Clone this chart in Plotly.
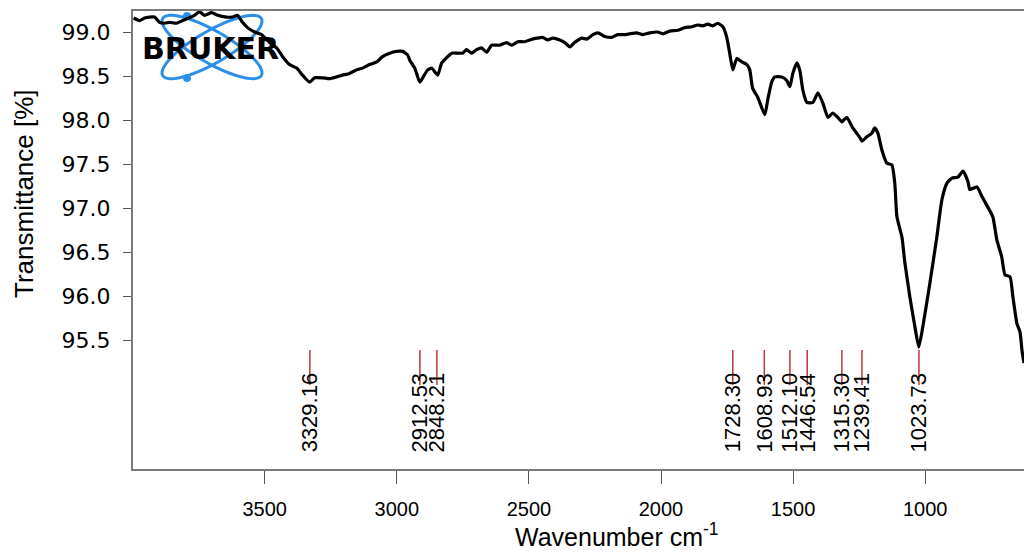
import numpy as np
import plotly.graph_objects as go

# ---- data ----
wavenumber = [3996, 3974, 3955, 3936, 3917, 3898, 3879, 3860, 3834, 3803,
              3766, 3747, 3728, 3701, 3678, 3644, 3622, 3603, 3584, 3565,
              3538, 3512, 3481, 3455, 3432, 3406, 3379, 3357, 3330, 3311,
              3281, 3254, 3228, 3205, 3179, 3152, 3129, 3103, 3076, 3054,
              3027, 3001, 2978, 2959, 2951, 2932, 2913, 2902, 2883, 2868,
              2857, 2845, 2830, 2811, 2792, 2770, 2751, 2736, 2717, 2698,
              2679, 2660, 2641, 2611, 2584, 2565, 2542, 2516, 2497, 2470,
              2448, 2429, 2410, 2383, 2364, 2345, 2327, 2300, 2281, 2258,
              2239, 2213, 2186, 2164, 2137, 2118, 2092, 2069, 2043, 2012,
              1993, 1967, 1937, 1910, 1883, 1861, 1842, 1823, 1804, 1785,
              1766, 1751, 1740, 1728, 1713, 1694, 1675, 1664, 1653, 1634,
              1607, 1596, 1581, 1569, 1543, 1524, 1512, 1501, 1486, 1475,
              1463, 1448, 1425, 1406, 1387, 1368, 1350, 1331, 1315, 1297,
              1274, 1247, 1239, 1221, 1202, 1191, 1179, 1164, 1145, 1126,
              1115, 1107, 1088, 1077, 1058, 1039, 1024, 1009, 982, 956,
              937, 918, 899, 876, 857, 838, 831, 804, 785, 763,
              744, 729, 710, 698, 679, 668, 653, 641, 634, 626]
transmittance = [99.16, 99.13, 99.16, 99.17, 99.17, 99.11, 99.10, 99.11, 99.10, 99.14,
                 99.19, 99.23, 99.19, 99.22, 99.19, 99.17, 99.17, 99.19, 99.11, 99.05,
                 99.00, 98.97, 98.88, 98.82, 98.72, 98.63, 98.59, 98.51, 98.43, 98.48,
                 98.48, 98.47, 98.49, 98.51, 98.53, 98.57, 98.59, 98.63, 98.66, 98.72,
                 98.76, 98.78, 98.78, 98.74, 98.68, 98.59, 98.43, 98.48, 98.57, 98.59,
                 98.55, 98.51, 98.65, 98.71, 98.76, 98.76, 98.76, 98.80, 98.76, 98.80,
                 98.82, 98.77, 98.85, 98.85, 98.88, 98.85, 98.89, 98.89, 98.91, 98.93,
                 98.94, 98.91, 98.93, 98.91, 98.88, 98.83, 98.88, 98.93, 98.92, 98.97,
                 98.99, 98.95, 98.94, 98.97, 98.97, 98.98, 98.99, 98.97, 98.99, 99.00,
                 98.98, 99.01, 99.02, 99.05, 99.06, 99.08, 99.07, 99.09, 99.07, 99.10,
                 99.06, 98.94, 98.76, 98.57, 98.70, 98.66, 98.63, 98.57, 98.36, 98.26,
                 98.06, 98.23, 98.43, 98.49, 98.49, 98.45, 98.38, 98.53, 98.65, 98.57,
                 98.34, 98.20, 98.20, 98.31, 98.19, 98.03, 98.08, 98.03, 97.98, 98.03,
                 97.91, 97.80, 97.76, 97.81, 97.85, 97.91, 97.85, 97.66, 97.51, 97.49,
                 97.28, 96.90, 96.67, 96.38, 95.99, 95.65, 95.42, 95.65, 96.15, 96.67,
                 97.09, 97.28, 97.34, 97.35, 97.42, 97.30, 97.21, 97.24, 97.13, 97.01,
                 96.90, 96.64, 96.44, 96.24, 96.22, 95.99, 95.69, 95.59, 95.39, 95.24]

peak_positions = [3329.16, 2912.53, 2848.21, 1728.30, 1608.93,
                  1512.10, 1446.54, 1315.30, 1239.41, 1023.73]
peak_labels = ["3329.16", "2912.53", "2848.21", "1728.30", "1608.93",
               "1512.10", "1446.54", "1315.30", "1239.41", "1023.73"]

x_ticks = [3500, 3000, 2500, 2000, 1500, 1000]
y_ticks = [95.5, 96.0, 96.5, 97.0, 97.5, 98.0, 98.5, 99.0]
y_ticktext = ["95.5", "96.0", "96.5", "97.0", "97.5", "98.0", "98.5", "99.0"]

X_RANGE = [3998.5, 626]
Y_RANGE = [94.034, 99.239]
MARKER_TOP, MARKER_BOTTOM = 95.386, 94.99
LABEL_Y = 94.676

FONT = "Liberation Sans"
WIDE = "DejaVu Sans"
W, H = 1024, 554
ML, MR, MT, MB = 133, 0, 11, 85
PW, PH = W - ML - MR, H - MT - MB

fig = go.Figure()

# peak marker lines
mx, my = [], []
for p in peak_positions:
    mx += [p, p, None]
    my += [MARKER_TOP, MARKER_BOTTOM, None]
fig.add_trace(go.Scatter(x=mx, y=my, mode="lines",
                         line=dict(color="#b23b3b", width=1.5),
                         hoverinfo="skip", showlegend=False))

# spectrum
fig.add_trace(go.Scatter(x=wavenumber, y=transmittance, mode="lines",
                         line=dict(color="black", width=3.2, shape="spline", smoothing=0.5),
                         showlegend=False))

# peak labels
for p, lab in zip(peak_positions, peak_labels):
    fig.add_annotation(x=p, y=LABEL_Y, xref="x", yref="y", text=lab,
                       textangle=-90, showarrow=False,
                       xanchor="center", yanchor="middle",
                       font=dict(family=FONT, size=22, color="black"))

# ---- Bruker logo (decoration, paper coordinates) ----
def px2paper(X, Y):
    return (X - ML) / PW, (H - MB - Y) / PH

def ellipse_path(cx, cy, a, b, ang_deg, n=72):
    t = np.linspace(0, 2 * np.pi, n)
    ang = np.deg2rad(ang_deg)
    xs = cx + a * np.cos(t) * np.cos(ang) - b * np.sin(t) * np.sin(ang)
    ys = cy + a * np.cos(t) * np.sin(ang) + b * np.sin(t) * np.cos(ang)
    pts = [px2paper(x, y) for x, y in zip(xs, ys)]
    return "M " + " L ".join(f"{u:.5f},{v:.5f}" for u, v in pts) + " Z"

blue = "#2b8fe8"
for ang in (30, -30):
    fig.add_shape(type="path", xref="paper", yref="paper",
                  path=ellipse_path(212, 47, 57, 16, ang),
                  line=dict(color=blue, width=3), layer="below")
for (dx, dy) in [(187, 16), (187, 78)]:
    u0, v0 = px2paper(dx - 4, dy + 4)
    u1, v1 = px2paper(dx + 4, dy - 4)
    fig.add_shape(type="circle", xref="paper", yref="paper",
                  x0=u0, y0=v0, x1=u1, y1=v1,
                  fillcolor=blue, line=dict(color=blue, width=0), layer="below")
bx, by = px2paper(210, 48)
fig.add_annotation(x=bx, y=by, xref="paper", yref="paper", text="<b>BRUKER</b>",
                   showarrow=False, xanchor="center", yanchor="middle",
                   font=dict(family=WIDE, size=30, color="black"))

# axis titles (anchored at the bottom edge so the text stays inside the page)
tx, ty = px2paper(617, 553)
fig.add_annotation(x=tx, y=ty, xref="paper", yref="paper",
                   text="Wavenumber cm<sup>-1</sup>", showarrow=False,
                   xanchor="center", yanchor="bottom",
                   font=dict(family=FONT, size=25, color="black"))
yx, yy = px2paper(24, 194)
fig.add_annotation(x=yx, y=yy, xref="paper", yref="paper",
                   text="Transmittance [%]", textangle=-90, showarrow=False,
                   xanchor="center", yanchor="middle",
                   font=dict(family=FONT, size=26, color="black"))

fig.update_layout(
    width=W, height=H, autosize=False,
    margin=dict(l=ML, r=MR, t=MT, b=MB),
    paper_bgcolor="white", plot_bgcolor="white",
    font=dict(family=FONT, color="black"),
    showlegend=False,
)
fig.update_xaxes(range=X_RANGE, tickvals=x_ticks, ticks="outside", ticklen=13,
                 tickcolor="#555", tickwidth=1.2,
                 showline=True, linecolor="#7a7a7a", linewidth=2, mirror=True,
                 showgrid=False, zeroline=False,
                 tickfont=dict(family=FONT, size=20, color="black"),
                 ticklabelstandoff=8)
fig.update_yaxes(range=Y_RANGE, tickvals=y_ticks, ticktext=y_ticktext,
                 ticks="outside", ticklen=8, tickcolor="#555", tickwidth=1.2,
                 showline=True, linecolor="#7a7a7a", linewidth=2, mirror=False,
                 showgrid=False, zeroline=False,
                 tickfont=dict(family=WIDE, size=22, color="black"),
                 ticklabelstandoff=8)

fig.write_html("out.html",
               config={"displayModeBar": False},
               post_script="document.body.style.margin='0';document.body.style.overflow='hidden';")
